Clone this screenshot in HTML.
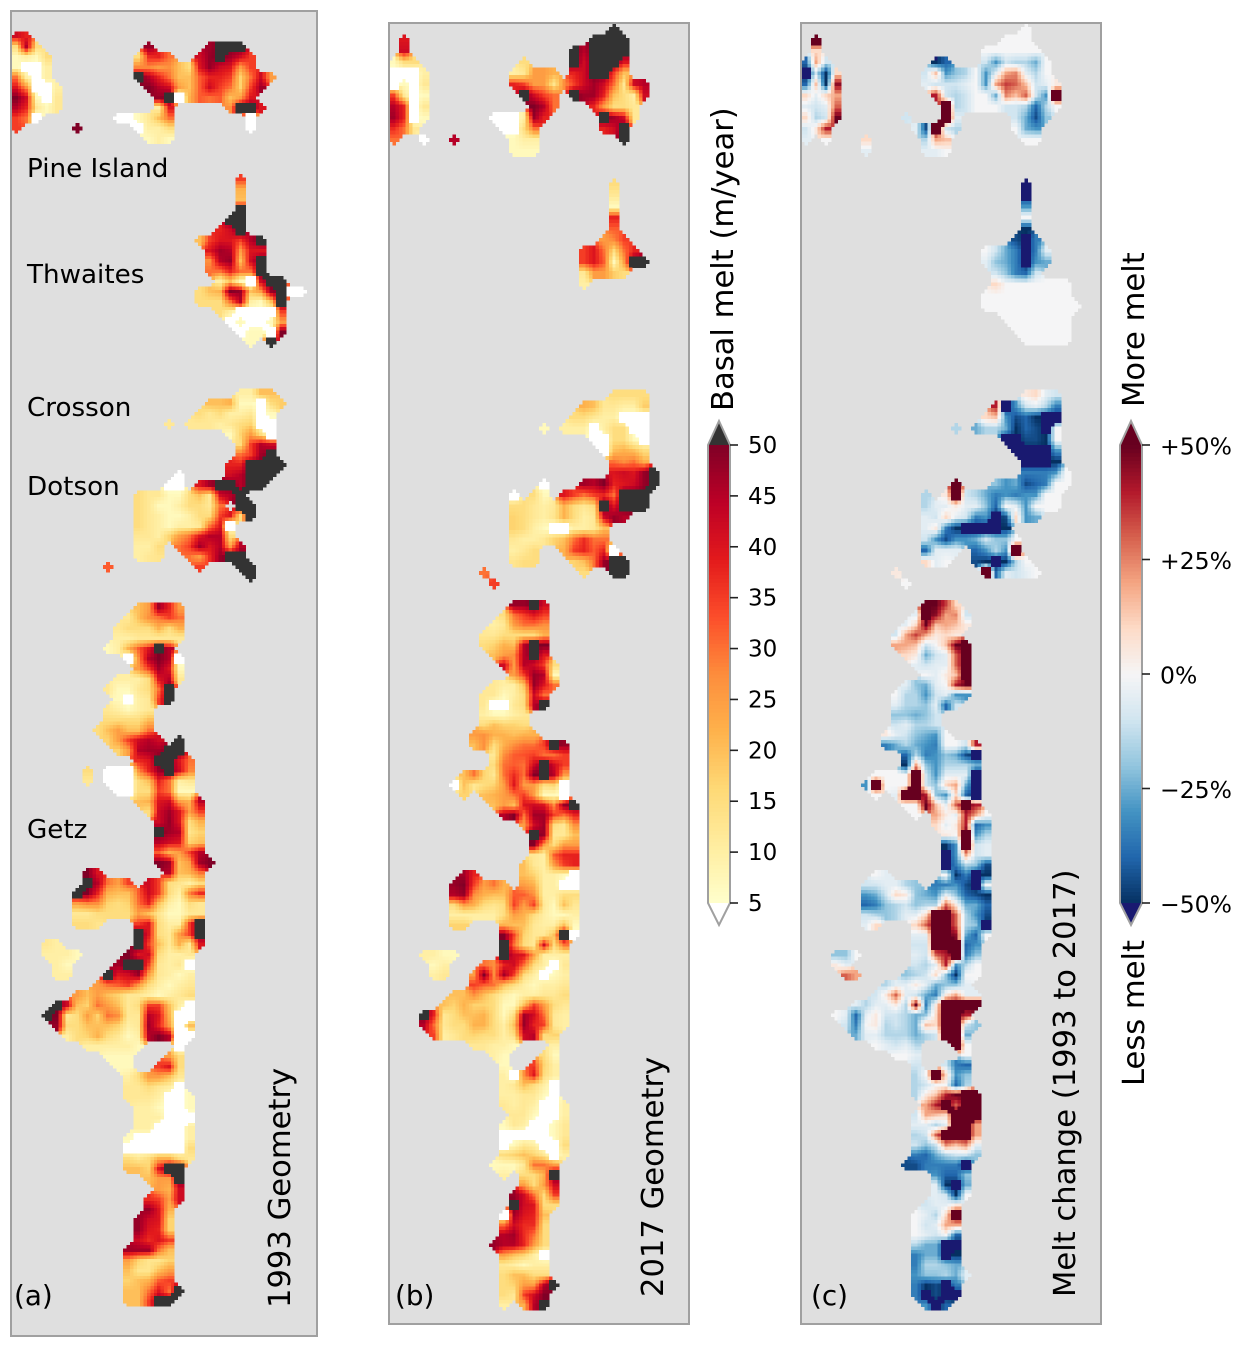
<!DOCTYPE html>
<html lang="en">
<head>
<meta charset="utf-8">
<title>Basal melt maps</title>
<style>
html,body{margin:0;padding:0;background:#fff}
svg{display:block}
text{font-family:"DejaVu Sans","Liberation Sans",sans-serif;fill:#000}
.panel-frame{fill:none;stroke:#a0a0a0;stroke-width:2}
.lbl{font-size:26.2px}
.ltr{font-size:27.8px}
.ttl{font-size:30.6px}
.tick{font-size:23px}
.tick2{font-size:23.5px}
</style>
</head>
<body>
<svg id="fig" xmlns="http://www.w3.org/2000/svg" width="1244" height="1348" viewBox="0 0 1244 1348">
  <rect x="11" y="11" width="306" height="1325" fill="#dfdfdf"/>
  <rect x="389" y="23" width="300" height="1301" fill="#dfdfdf"/>
  <rect x="801" y="23" width="300" height="1301" fill="#dfdfdf"/>
  <g id="cells-a" shape-rendering="crispEdges"></g>
  <g id="cells-b" shape-rendering="crispEdges"></g>
  <g id="cells-c" shape-rendering="crispEdges"></g>
  <rect class="panel-frame" x="11" y="11" width="306" height="1325"/>
  <rect class="panel-frame" x="389" y="23" width="300" height="1301"/>
  <rect class="panel-frame" x="801" y="23" width="300" height="1301"/>

  <text class="lbl" x="27" y="177">Pine Island</text>
  <text class="lbl" x="27" y="283">Thwaites</text>
  <text class="lbl" x="27" y="416">Crosson</text>
  <text class="lbl" x="27" y="495">Dotson</text>
  <text class="lbl" x="27" y="838">Getz</text>
  <text class="ltr" x="14" y="1305">(a)</text>
  <text class="ltr" x="395" y="1305">(b)</text>
  <text class="ltr" x="811" y="1305">(c)</text>

  <text class="ttl" transform="translate(290,1308) rotate(-90)">1993 Geometry</text>
  <text class="ttl" transform="translate(663,1297) rotate(-90)">2017 Geometry</text>
  <text class="ttl" transform="translate(1075,1297) rotate(-90)">Melt change (1993 to 2017)</text>
  <text class="ttl" transform="translate(733,411) rotate(-90)">Basal melt (m/year)</text>
  <text class="ttl" transform="translate(1144,407) rotate(-90)">More melt</text>
  <text class="ttl" transform="translate(1144,1086) rotate(-90)">Less melt</text>

  <g id="bar-melt"></g>
  <g id="bar-change"></g>
</svg>
<script>
// Basal melt (m/year) on a coarse grid. Each row is a list of runs: [startColumn, value, value, ...]
const melt1993Rows = [
[],[],
[[0,42,38]],
[[0,15,45,15],[13,48],[19,47,55,55,55]],
[[0,7,10,7,15],[12,15,37,38,30],[18,42,48,55,47,42,35]],
[[0,7,3,3,10],[12,28,28,25,27,20,15,40,48,42,40,25,35]],
[[0,30,10,3,10],[12,55,45,38,30,20,20,32,38,38,35,17,30,42,25]],
[[0,40,27,3,3,10],[13,50,45,42,25,20,32,42,35,30,17,35,47]],
[[0,50,42,7,3,12],[14,48,55,3,22,32,30,32,20,25,40]],
[[0,45,38,12,7,12],[14,10,40],[21,27,55,55,40]],
[[0,35,30,3],[10,3,3,7,12,20,30],[23,3]],
[[0,35],[6,50],[12,3,10,10,15],[23,3]],
[[13,7,10,7]],
[],[],[],
[[22,35]],
[[22,22]],
[[22,20]],
[[22,55]],
[[21,55,55]],
[[20,38,42,55]],
[[18,20,35,40,40,35,45,55]],
[[19,40,47,45,25,40,40]],
[[19,27,45,48,20,42,55]],
[[19,30,30,38,30,30,55]],
[[20,10,20,7,3,42,55,55]],
[[18,15,20,22,50,48,20,25,48,55,3,3]],
[[18,15,15,15,30,45,10,7,20,55]],
[[20,15,10,3,3,3,3,35]],
[[21,3,7,3,3,7,25]],
[[22,3,7,7,3,50]],
[[23,7],[25,55]],
[],[],[],[],
[[22,10,10,20,20]],
[[19,20,20,22,7,7,3,15,18]],
[[18,15,12,15,10,10,12,3,7]],
[[15,12],[17,12,12,12,10,12,15,17,3,3]],
[[21,7,17,25,15,3]],
[[22,15,35,45,42]],
[[22,30,35,47,55]],
[[21,38,38,55,55,55,55]],
[[16,3],[21,42,45,55,55,55]],
[[15,3,3],[18,40,47,55,55,45,55,55]],
[[12,15,12,12,7,7,15,20,12,42,45,55]],
[[12,15,12,7,7,10,15,15,12,30],[22,55,55]],
[[12,15,12,10,7,7,10,15,15,35,40,15,55]],
[[12,15,12,10,7,10,10,12,30,40,3]],
[[12,12,12,10,17,25,30,40,45,45,15]],
[[12,10,10,15],[16,30,35,47,40,45,25,45]],
[[12,10,12,13],[17,30,25,37,48,55,55]],
[[9,32],[18,35],[22,55,55]],
[[23,55]],
[],[],
[[12,20,25,47,38,25]],
[[11,12,20,27,30,35,30]],
[[10,12,15,15,15,22,15,22]],
[[10,10,10,12,12,12,12,12]],
[[9,7,10,22,32,40,55,45]],
[[11,3,27,45,50,45,3]],
[[12,25,35,47,40,7]],
[[10,10,10,10,15,40,45,12]],
[[9,12,7,7,12,15,30,55]],
[[10,7,3,10,12,35,55]],
[[9,12,10,7,10,12]],
[[9,15,15,15,15,20]],
[[8,15,20,25,20,20,30]],
[[9,17,25,35,42,45,42],[16,55]],
[[10,17,25,45,47,47,55,55]],
[[12,37,40,55,55,40,30]],
[[7,15],[9,3,3,3,27,38,48,55,42,28]],
[[7,12],[9,3,3,3,15,20,38,30,10,12]],
[[10,3,3,15,15,35,30,7,7]],
[[12,20,22,40,42,25,22,45]],
[[13,15,42,47,40,25,35]],
[[14,42,48,40,15,22]],
[[14,55,47,45,13,17]],
[[14,45,42,40,17,20]],
[[14,32,22,25,35,45]],
[[14,50,47,20,25,47,50]],
[[7,50,40],[15,45,20,22,30]],
[[7,55,45,30,25,35],[13,42,35,15,13,10,15]],
[[6,55,50,38,22,20,20,32,42,35,15,10,28,37]],
[[6,25,28,27,17,15,17,30,38,20,10,7,15,12]],
[[6,12,12,15,15,15,15,25,20,13,7,7,12,12]],
[[6,15,15,13],[12,35,40,15,10,10,35,55]],
[[12,55,40,15,12,25,35,55]],
[[3,12,10],[12,55,35,20,12,22,12,40]],
[[3,10,10,10,7],[11,50,40,42,15,10,10,12]],
[[4,10,7],[10,47,52,55,35,12,10,12,3]],
[[4,10,10],[9,55,40,42,48,25,12,10,7,10]],
[[8,25,30,32,35,25,15,10,7,10,12]],
[[6,25,20,25,20,17,12,12,10,7,10,12,15]],
[[4,55,42,20,17,30,25,20,12,15,35,35,20,10,3]],
[[3,55,50,12,15,25,17,30,27,12,12,45,40,22,3,3]],
[[4,48,15,15,20,20,20,17,10,12,47,38,25,3,20]],
[[5,10,15,17,22,15,12,7,10,45,50,45,3,3]],
[[7,10,10,10,10,10,7],[16,3]],
[[9,7,7,7],[15,25,15]],
[[10,7,7],[14,35,40,15]],
[[11,10,15,25,25,20,12]],
[[11,12,12,15,12,10,3]],
[[11,12,12,12,10,3,3,7]],
[[12,10,10,7,3,3,7]],
[[12,10,10,10,3,3,3]],
[[12,10,10,3,3,3,10]],
[[11,7,3,3,3,3,3,10]],
[[11,3,3,3,3,3,3,15]],
[[11,15,12,15,22,22,15,12]],
[[11,20,20,17,40,55,55]],
[[13,20,25,25,55]],
[[14,25,22,42]],
[[13,37,35,25,42]],
[[13,48,40,22]],
[[12,48,42,40,17]],
[[12,48,40,38,17]],
[[12,42,37,40,35]],
[[11,47,47,47,30,20]],
[[11,25,17,13,13,17]],
[[11,20,13,13,20,25]],
[[11,17,20,22,32,35]],
[[11,20,20,30,40,30,55]],
[[11,20,20,35,55,55]]
];
const melt2017Rows = [
[[22,55]],
[[1,40],[20,55,55,55,55]],
[[1,42],[18,55,45,55,55,55,55]],
[[0,7,15,15],[13,15],[18,55,42,55,55,55,40]],
[[0,3,3,3,10],[12,10,12,25,25,22],[18,38,42,55,55,35,20]],
[[0,3,7,3,12],[12,38,35,25,25,13,27,35,42,47,42,30,12,42,45]],
[[0,35,12,3,7],[13,55,42,35,30],[18,55,47,47,38,20,15,10,42]],
[[0,45,38,3,12],[14,50,45,30],[20,38,25,15,15,12]],
[[0,47,38,3,7],[10,3,3,3,10,48,38],[21,55,47,42,12]],
[[0,37,30,12],[11,3,3,15,30],[21,38,42,55]],
[[0,30],[3,3],[6,45],[12,7,10,10],[23,55]],
[[12,7,7,7]],
[],[],
[[22,15]],
[[22,12]],
[[22,7]],
[[22,38]],
[[22,32]],
[[21,25,28,35]],
[[19,35,40,30,15,30,38]],
[[19,35,40,32,7,25,55,55]],
[[19,12,25,25,18,15]],
[[19,10]],
[],[],[],[],[],[],[],[],[],
[[22,15,15,15,15]],
[[19,22,20,12,12,10,10,18]],
[[18,15,15,12,10,10,3,3,3]],
[[15,7],[17,10,10,10,3,10,15,15,3,3]],
[[20,3,3,15,15,7,3]],
[[21,3,20,22,20,15]],
[[22,30,27,30,22]],
[[22,40,42,40,48,55]],
[[15,3],[19,47,45,50,38,40,42,48,55]],
[[12,3],[14,15,7],[17,40,35,30,35,38,30,55,55,55]],
[[12,15,15,12,10,12,22,15,12,15,55,40,55,55,55]],
[[12,17,15,12,10,13,22,15,10,12,42,48,45]],
[[12,17,15,10,7,3,3,10,10,12,20]],
[[12,12,10,10,12,17,20,30,37,30,30]],
[[12,10,12,15],[17,22,35,38,32,38,3]],
[[12,13,15,15],[18,17,20,30,48,55,55]],
[[9,30],[19,15],[22,55,55]],
[[10,35]],
[],[],[],[],[],[],[],
[[12,48,48,55,42]],
[[11,15,30,35,40,35]],
[[10,10,12,25,30,30,27]],
[[9,12,12,15,15,15,15,22]],
[[9,15,17,22,20,45,55,50]],
[[10,20,25,27,45,55,40]],
[[11,42,25,45,42,35,15]],
[[12,25,35,48,45,7]],
[[10,12,10,10,20,48,40,30]],
[[9,12,12,7,10,15,42,30]],
[[9,12,3,3,12,15],[14,45,55]],
[[9,10,7,7,10,12]],
[[9,15,20,17,17,15]],
[[8,25,27,22,22,20,22,22]],
[[8,20,27,15,22,27,30,30,35,55,48]],
[[10,12,27,32,33,35,30,30,35]],
[[10,15,30,32,30,42,55,42,35]],
[[7,20,30,17,12,30,37,30,50,55,45,25]],
[[6,3,20,12,15,17,25,40,25,25,15,17,3]],
[[7,17],[9,20,22,25,30,35,25,7,7,3]],
[[10,20,25,20,40,42,40,27,48,55]],
[[11,45,50,30,47,47,35,30,38]],
[[13,25,42,47,15,12,27]],
[[14,55,48,12,12,20]],
[[14,50,25,15,25,25]],
[[14,12,10,32,38,38]],
[[13,20,12,10,25,35,38]],
[[7,47,38],[13,20,17,10,10,7,3]],
[[6,48,50,35,25,30,22],[13,25,22,10,10,3,3]],
[[6,45,48,27,22,20,20,32,32,27,10,10,15,15]],
[[6,15,25,22,15,13,15,35,25,35,12,7,20,12]],
[[6,10,10,10,10,10,15,25,22,15,10,7,7,10]],
[[6,17,17],[11,22,20,20,12,10,10,20,7]],
[[11,50,35,17,12,12,20,55,3]],
[[11,55,30,15,12,42,15,30]],
[[3,10,10,7,7],[11,55,42,40,25,10,10,10]],
[[4,7,10],[9,30,27,38,42,30,15,10,3,12]],
[[4,10,12],[8,25,50,27,47,35,15,10,3,7,10]],
[[8,35,32,30,20,15,10,7,10,10,12]],
[[6,20,20,27,20,15,10,7,10,10,12,12,15]],
[[5,20,17,22,17,17,15,7,7,20,35,25,15,12]],
[[3,55,38,12,15,20,20,22,15,7,15,47,42,30,12,10]],
[[3,45,30,12,15,15,22,22,15,10,20,48,38,35,12,10]],
[[4,35,10,12,15,17,15,15,10,15,42,45,15,17]],
[[8,12,12,10,10,7],[16,10]],
[[10,10,7],[15,15,7]],
[[11,7],[14,35,17,10]],
[[11,10,3,27,40,15,10]],
[[11,10,12,20,15,10,3]],
[[11,10,10,12,12,7,3]],
[[11,12,10,12,10,3,3,10]],
[[12,12,12,7,3,3,10]],
[[11,7,12,10,3,3,7,12]],
[[11,3,3,3,3,3,7,12]],
[[11,3,7,12,10,3,3,15]],
[[11,15,17,20,17,12,3,10]],
[[10,7,7,7,12,30,30,25]],
[[11,10],[13,15,15,22,55]],
[[13,25,15,25,42]],
[[12,48,42,30,15,35]],
[[12,55,42,40,15,15]],
[[11,3,47,40,38,20]],
[[11,30,42,37,37,15]],
[[11,45,47,37,30,15]],
[[10,48,45,45,38,25,15]],
[[11,25,20,17,10,3]],
[[11,12,10,7,10,10]],
[[11,15,20,20,15,15]],
[[11,15,17,25,25,45,55]],
[[11,15,12,35,42,50]],
[[11,10],[13,22,45,55]]
];
// Melt change (%) on the same grid as the 2017 map.
const meltChangeRows = [
[[22,0]],
[[1,60],[20,0,0,0]],
[[1,10],[18,0,0,0,0,0,0]],
[[0,-40,20,-10],[13,-50,-40],[18,-10,-30,-10,-15,-15,-25,0]],
[[0,-60,-10,-50,10],[12,-10,15,-30,-20,-15,0,-30,-5,20,25,-5,-15,0]],
[[0,-40,15,-50,45],[12,-5,-10,-10,-10,-5,0,-30,20,35,30,15,-10,-5,5]],
[[0,10,-5,10,20],[13,40,-10,-15,-10,0,0,-25,25,15,30,-10,-30,60]],
[[0,-5,-10,-5,30],[14,60,-15,-10,0,0,0,-10,-10,-15,-40,-15,0]],
[[0,10,-15,-10,50],[10,-10],[14,60,-5],[21,-10,-25,-45,-20]],
[[0,-10,5,40],[11,-5,-45,60,-10,-15],[21,0,-25,-30]],
[[0,-5],[2,0],[6,10],[12,-15,20,15],[22,0,0]],
[[6,-5],[12,-5,-5,0]],
[],[],
[[22,-60]],
[[22,-55]],
[[22,-30]],
[[22,0]],
[[22,-50]],
[[21,-45,-60,-35]],
[[18,0,-10,-25,-35,-60,-35,-5]],
[[18,-5,-20,-25,-35,-55,-30,-25]],
[[19,-10,-20,-35,-40,-10]],
[[19,10,0,0,0,0,0,0,0]],
[[18,0,0,0,0,0,0,0,0,0]],
[[18,0,0,0,0,0,0,0,0,0,0]],
[[20,0,0,0,0,0,0,0]],
[[21,0,0,0,0,0,0]],
[[22,0,0,0,0,0]],
[],[],[],[],
[[22,5,10,-5,-10]],
[[19,40,-55,-30,-10,-5,-15,-35]],
[[18,10,15,-30,-45,-40,-50,-60,-60]],
[[15,-15],[17,-25,-15,-15,-25,-50,-40,-45,-60,0]],
[[20,-60,-60,-45,-45,-50,0]],
[[21,-60,-55,-60,-60,-30]],
[[22,-60,-60,-60,-50]],
[[22,-35,-35,-35,-30,0]],
[[15,60],[19,-20,-30,-25,-45,-40,-35,0,0]],
[[12,-15],[14,5,60,-10,-15,-25,-35,-30,-35,-30,-30,0,0]],
[[12,-15,-5,-5,5,-5,-5,-20,-40,0,-5,-30,0,0,0]],
[[12,-5,-10,10,-5,-10,-35,-30,-55,-45,10,-30,-25]],
[[12,-5,5,-35,-50,-60,-60,-60,-55,-50]],
[[12,-10,-30,-45,-30,-30,-25,-10,-20,-20,0]],
[[12,-40,-5,-5,-5],[17,-40,-30,-15,-30,60]],
[[12,10,-5,0],[17,-45,-50,-60,-50,-15,0]],
[[9,5],[18,60,-40,-5,-10,-5,0]],
[[10,0]],
[],[],[],[],[],[],[],
[[12,60,50,35,10]],
[[11,-5,60,45,20,25,-10]],
[[10,-5,10,50,15,20,15,5]],
[[9,-10,20,35,20,5,10,5]],
[[9,20,20,15,-10,0,15,50,60]],
[[10,10,5,-25,-10,-5,30,60]],
[[11,-5,-10,-5,-5,30,60]],
[[12,0,-5,5,15,60]],
[[10,-5,-20,-25,-5,0,40,50]],
[[9,0,-15,-15,-30,-10,-5,-30,-30]],
[[9,-5,-15,-15,-20,-5,-40,-10]],
[[9,-20,-20,-25,-20,-10]],
[[9,-10,-5,-15,-15,-10]],
[[8,5,-5,-10,-20,-25,-30,0]],
[[8,-35,-25,-15,-25,-30,-35,0,0,-10,40]],
[[10,-40,-15,-35,-30,-20,-25,-45,-55]],
[[10,-50,20,-20,-30,-15,-15,-15,-25]],
[[7,0,0,0,0,60,-10,-30,-5,-5,-5,-60]],
[[6,-30,60,0,0,0,60,-10,-20,10,20,-25,-60]],
[[7,0],[9,-5,60,60,40,-20,-30,10,-40,-60]],
[[10,0,0,50,15,-5,30,60,40]],
[[11,0],[13,20,5,-5,40,20,0]],
[[13,10,-5,5,40,-40,-30]],
[[14,5,0,60,-30,-15]],
[[14,-50,-30,60,-10,-5]],
[[14,-55,-30,20,-10,-5]],
[[14,-55,-35,-15,-20,-45]],
[[7,0,-5],[14,0,-50,-35,-60,-50]],
[[6,-10,-10,-5,-5,-15,-20],[13,-35,-35,-30,-45,-60,0]],
[[6,-30,-25,-10,10,5,-20,-25,-30,-5,-20,-40,-45,-50]],
[[6,-40,-35,-20,-15,-10,-20,-15,-15,30,5,-25,-25,-40]],
[[6,-10,-15,-20,-15,-5,-5,10,60,60,30,-15,-30,-45]],
[[6,-5,10],[11,10,30,60,60,30,-15,-20,-55]],
[[11,-5,-5,60,60,45,-25,-40,0]],
[[11,-10,-10,60,60,60,-40,-30]],
[[3,-20,-20,0],[11,-5,-10,30,40,60,-35,-20]],
[[3,5,-5],[11,-10,-15,-5,40,-30,-15,0]],
[[4,30,20],[10,-20,-15,-10,10,-20,-50,0,0]],
[[8,-15,-5,-5,5,-5,-25,-20,-20,-5]],
[[7,-10,5,30,-5,-10,-25,-35,5,20,-5,-5]],
[[5,-5,-15,-5,-5,5,-15,50,-35,5,60,60,60,60]],
[[3,0,-5,-40,-5,5,-10,-10,-15,-25,-20,10,60,60,40]],
[[4,-10,-35,0,5,-15,-10,-15,-25,15,10,60,60,-10,-20]],
[[5,-25,-5,-5,-15,-15,-15,-25,-15,-10,60,60,-25]],
[[7,0,-5,-10,-5,-15],[15,60,0]],
[[9,0,0,-5],[16,0]],
[[11,-10],[14,-10,-35,-40]],
[[11,-15,0,60,10,-30,-20]],
[[11,-15,-10,0,0,-40,-15]],
[[11,-15,5,15,40,50,60,60]],
[[12,20,40,60,30,60,60]],
[[11,-10,20,15,10,60,60,60]],
[[11,-5,-5,-15,-5,60,60,20]],
[[11,-15,-10,30,60,60,60,20]],
[[11,-10,-20,-10,25,15,25,-5]],
[[11,-35,-40,-25,-15,-10,-10,-20]],
[[10,-45,-45,-35,-35,-35,-35,-60]],
[[13,-30,-40,-40,-20]],
[[13,-5,-50,-55,-25]],
[[13,-5,-10,-50,0]],
[[12,-10,-5,-5,5]],
[[11,0,-5,-15,10,60]],
[[11,0,-10,-5,20,20]],
[[11,0,-5,-10,0,-40]],
[[11,-15,-25,-25,-55,-60]],
[[11,-35,-25,-25,-60,-50]],
[[11,-35,-15,-15,-20,-25]],
[[11,-30,-20,-20,-15,-25,-5]],
[[11,-35,-50,-45,-60,-35]],
[[11,-35,-60,-45,-60,-55]],
[[12,-30,-60,-40]]
];
const meltTicks = [5,10,15,20,25,30,35,40,45,50];
const changeTicks = [50,25,0,-25,-50];
const changeTickLabels = ['+50%','+25%','0%','\u221225%','\u221250%'];
const meltStops = ['#ffffcc','#ffeda0','#fed976','#feb24c','#fd8d3c','#fc4e2a','#e31a1c','#bd0026','#800026'];
const changeStops = ['#053061','#2166ac','#4393c3','#92c5de','#d1e5f0','#f5f5f6','#fddbc7','#f4a582','#d6604d','#b2182b','#67001f'];

const NS = 'http://www.w3.org/2000/svg';
const SUB = 3;
function hex(c){return [1,3,5].map(i=>parseInt(c.substr(i,2),16));}
function ramp(stops,t){
  const p=Math.max(0,Math.min(1,t))*(stops.length-1), i=Math.min(stops.length-2,Math.floor(p)), f=p-i;
  const a=hex(stops[i]), b=hex(stops[i+1]);
  return 'rgb('+a.map((v,k)=>Math.round(v+(b[k]-v)*f)).join(',')+')';
}
function meltColor(v){
  if(v<5) return '#ffffff';
  if(v>50) return '#333333';
  return ramp(meltStops,(v-5)/45);
}
function changeColor(v){
  if(v<-50) return '#191970';
  if(v>50) return '#67001f';
  return ramp(changeStops,(v+50)/100);
}
function toGrid(rows){
  return rows.map(row=>{
    const g=[];
    row.forEach(run=>run.slice(1).forEach((v,k)=>{g[run[0]+k]=v;}));
    return g;
  });
}
// Resolve the value shown at a fractional grid position from the four surrounding cells.
function sample(grid,u,v,lowCut,highCut){
  const c0=Math.floor(u-0.5), r0=Math.floor(v-0.5), fu=u-0.5-c0, fv=v-0.5-r0;
  let occ=0,hi=0,lo=0,sum=0,wt=0,loVal=0,hiVal=0;
  [[0,0,(1-fu)*(1-fv)],[1,0,fu*(1-fv)],[0,1,(1-fu)*fv],[1,1,fu*fv]].forEach(n=>{
    const row=grid[r0+n[1]];
    const val=row?row[c0+n[0]]:undefined;
    if(val===undefined) return;
    occ+=n[2];
    if(val>highCut){hi+=n[2];hiVal=val;}
    else if(val<lowCut){lo+=n[2];loVal=val;}
    sum+=Math.max(lowCut,Math.min(highCut,val))*n[2];
    wt+=n[2];
  });
  if(occ<0.45) return undefined;
  if(hi>=0.42) return hiVal;
  if(lo>=0.42) return loVal;
  return sum/wt;
}
function drawMap(groupId,rows,x0,cellW,rowTop,color,lowCut,highCut,nCols){
  const g=document.getElementById(groupId);
  const grid=toGrid(rows);
  for(let r=0;r<rows.length+1;r++){
    const y0=rowTop(r), y1=rowTop(r+1), hs=(y1-y0)/SUB;
    for(let s=0;s<SUB;s++){
      for(let c=0;c<nCols;c++){
        for(let t=0;t<SUB;t++){
          const val=sample(grid,c+(t+0.5)/SUB,r+(s+0.5)/SUB,lowCut,highCut);
          if(val===undefined) continue;
          const el=document.createElementNS(NS,'rect');
          
          
          el.setAttribute('x',(x0+(c+t/SUB)*cellW).toFixed(1));
          el.setAttribute('y',(y0+s*hs).toFixed(1));
          el.setAttribute('width',(cellW/SUB+0.3).toFixed(1));
          el.setAttribute('height',(hs+0.3).toFixed(1));
          el.setAttribute('fill',color(val));
          g.appendChild(el);
        }
      }
    }
  }
}
function rowTopA(r){return 11+10.2*r;}
function rowTopB(r){return r<=58 ? 23.3+Math.min(r,51)*11.1+Math.max(0,r-51)*(600-23.3-51*11.1)/7 : 600+(r-58)*10;}
drawMap('cells-a',melt1993Rows,11,10.2,rowTopA,meltColor,5,50,30);
drawMap('cells-b',melt2017Rows,389,10,rowTopB,meltColor,5,50,30);
drawMap('cells-c',meltChangeRows,801,10,rowTopB,changeColor,-50,50,30);

const BAR_TOP=445, BAR_BOTTOM=903, TIP_TOP=421, TIP_BOTTOM=925;
function drawBar(groupId,x,w,color,vMin,vMax,over,under,ticks,labels,labelX,labelClass,labelShift){
  const g=document.getElementById(groupId);
  const yOf=v=>BAR_BOTTOM-(v-vMin)/(vMax-vMin)*(BAR_BOTTOM-BAR_TOP);
  const n=120;
  for(let i=0;i<n;i++){
    const v=vMin+(vMax-vMin)*(i+0.5)/n;
    const el=document.createElementNS(NS,'rect');
    
    
    const h=(BAR_BOTTOM-BAR_TOP)/n;
    el.setAttribute('x',x);
    el.setAttribute('y',(BAR_BOTTOM-(i+1)*h).toFixed(2));
    el.setAttribute('width',w);
    el.setAttribute('height',(h+0.4).toFixed(2));
    el.setAttribute('fill',color(v));
    g.appendChild(el);
  }
  const mid=x+w/2;
  const top=document.createElementNS(NS,'polygon');
  
  
  top.setAttribute('points',x+','+BAR_TOP+' '+mid+','+TIP_TOP+' '+(x+w)+','+BAR_TOP);
  top.setAttribute('fill',over);
  g.appendChild(top);
  const bot=document.createElementNS(NS,'polygon');
  
  
  bot.setAttribute('points',x+','+BAR_BOTTOM+' '+mid+','+TIP_BOTTOM+' '+(x+w)+','+BAR_BOTTOM);
  bot.setAttribute('fill',under);
  g.appendChild(bot);
  const outline=document.createElementNS(NS,'polygon');
  
  
  outline.setAttribute('points',[[x,BAR_TOP],[mid,TIP_TOP],[x+w,BAR_TOP],[x+w,BAR_BOTTOM],[mid,TIP_BOTTOM],[x,BAR_BOTTOM]].map(p=>p.join(',')).join(' '));
  outline.setAttribute('fill','none');
  outline.setAttribute('stroke','#a0a0a0');
  outline.setAttribute('stroke-width','2');
  g.appendChild(outline);
  ticks.forEach((t,i)=>{
    const y=yOf(t);
    const tk=document.createElementNS(NS,'line');
    
    
    tk.setAttribute('x1',x+w);
    tk.setAttribute('x2',x+w+8);
    tk.setAttribute('y1',y);
    tk.setAttribute('y2',y);
    tk.setAttribute('stroke','#222');
    tk.setAttribute('stroke-width','1.6');
    g.appendChild(tk);
    const tx=document.createElementNS(NS,'text');
    
    
    tx.setAttribute('class',labelClass);
    tx.setAttribute('x',labelX);
    tx.setAttribute('y',y+labelShift);
    tx.textContent=labels[i];
    g.appendChild(tx);
  });
}
drawBar('bar-melt',708,22,meltColor,5,50,'#333333','#ffffff',meltTicks,meltTicks.map(String),748,'tick',8);
drawBar('bar-change',1120,22,changeColor,-50,50,'#67001f','#191970',changeTicks,changeTickLabels,1160,'tick2',9.5);
</script>
</body>
</html>
